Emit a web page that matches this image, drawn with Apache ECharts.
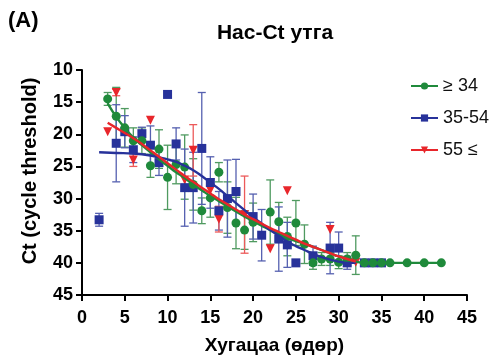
<!DOCTYPE html>
<html>
<head>
<meta charset="utf-8">
<script src="https://cdn.jsdelivr.net/npm/echarts@6/dist/echarts.min.js"></script>
<style>
    html, body { margin: 0; padding: 0; background: #fff; }
    #ET1 { width: 500px; height: 357px; }
</style>
</head>
<body>
<div id="ET1"></div>
<script>
// ≥ 34
var youngDays = [3, 4, 5, 6, 7, 8, 9, 10, 11, 12, 13, 14, 15, 16, 17, 18, 19, 20, 22, 23, 24, 25, 26, 27, 28, 29, 30, 31, 32, 33, 34, 35, 36, 38, 40, 42];
var youngCt   = [14.5, 17.2, 19, 21, 21, 24.9, 22.3, 26.7, 24.7, 25.1, 27.8, 31.9, 29.9, 25.9, 31.4, 33.8, 34.9, 33.7, 32.1, 33.6, 35.9, 33.8, 37.1, 40, 39.4, 39.4, 39.9, 39.4, 38.8, 40, 40, 40, 40, 40, 40, 40];
var youngSd   = [1, 4.5, 3, 2, 2, 1.8, 3, 5, 3, 5, 4, 2, 3, 1.5, 4, 4, 3, 3, 5, 3, 3, 3.5, 3, 1, 1, 1, 1, 1, 3, 0, 0, 0, 0, 0, 0, 0];

// 35-54
var midDays = [2, 4, 5, 6, 7, 8, 9, 10, 11, 12, 13, 14, 15, 16, 17, 18, 20, 21, 23, 24, 25, 27, 29, 30, 31, 33, 34, 35];
var midCt   = [33.3, 21.4, 19.6, 22.4, 19.9, 21.7, 24.4, 13.8, 21.5, 28.3, 28.3, 22.2, 27.5, 31.9, 30, 28.9, 32.8, 35.7, 36.3, 37.2, 40, 38.9, 37.7, 37.7, 40, 40, 40, 40];
var midSd   = [1, 6, 2.5, 2, 1, 3, 2, 0, 2.5, 6, 5.5, 8.7, 4, 3, 6, 5, 3.5, 4, 5, 3.5, 0, 1.5, 4, 2.5, 1, 0, 0, 0];

// 55 ≤
var oldDays = [3, 4, 6, 8, 12, 13, 15, 16, 19, 22, 24, 29, 32];
var oldCt   = [19.6, 13.5, 24, 17.8, 27.1, 22.5, 28.7, 33.2, 32.5, 37.8, 28.8, 34.8, 39.9];
var oldSd   = [0, 0.5, 1, 0, 0, 4, 0, 2, 6, 0, 0, 0, 0];

// fitted curves
var youngFitDays = [3, 4, 5, 6, 7, 8, 9, 10, 11, 12, 13, 14, 15, 16, 17, 18, 19, 20, 21, 22, 23, 24, 25, 26, 27, 28, 29, 30, 31, 32, 33, 34, 42];
var youngFitCt   = [15.2, 17.3, 19, 20.5, 21.7, 22.8, 23.9, 24.9, 25.9, 26.8, 27.8, 28.7, 29.6, 30.4, 31.2, 32, 32.8, 33.5, 34.2, 34.9, 35.5, 36.1, 36.6, 37, 37.5, 38, 38.5, 39, 39.4, 39.8, 40, 40, 40];
var midFitDays = [2, 4, 6, 8, 9, 10, 11, 12, 13, 14, 15, 16, 17, 18, 19, 20, 21, 22, 23, 24, 25, 26, 27, 28, 29, 30, 31, 32];
var midFitCt   = [22.8, 22.9, 23, 23.3, 23.6, 23.9, 24.3, 24.9, 25.6, 26.5, 27.5, 28.5, 29.6, 30.7, 31.8, 32.9, 33.9, 34.9, 35.8, 36.7, 37.4, 38, 38.6, 39.1, 39.5, 39.8, 40, 40];
var oldFitDays = [3, 4, 5, 6, 7, 8, 9, 10, 11, 12, 13, 14, 15, 16, 17, 18, 19, 20, 21, 22, 23, 24, 25, 26, 27, 28, 29, 30, 31, 32];
var oldFitCt   = [18.2, 19, 19.8, 20.6, 21.5, 22.5, 23.5, 24.5, 25.5, 26.5, 27.4, 28.3, 29.2, 30.1, 30.9, 31.7, 32.5, 33.2, 33.9, 34.6, 35.2, 35.8, 36.4, 37, 37.5, 38, 38.5, 39, 39.4, 39.8];

var groupNames = ['≥ 34', '35-54', '55 ≤'];
var colors = ['#1f8a3b', '#27329a', '#e8262b'];
var barColors = ['#4f9a60', '#5560b0', '#ec5a5a'];

function zip2(a, b) {
    return a.map(function (v, i) { return [v, b[i]]; });
}
function zip3(a, b, c) {
    return a.map(function (v, i) { return [v, b[i], c[i]]; });
}

function errorBars(name, data, color) {
    return {
        name: name,
        type: 'custom',
        data: data,
        z: 1,
        renderItem: function (params, api) {
            var x = api.value(0), y = api.value(1), e = api.value(2);
            if (!e) return null;
            var top = api.coord([x, y - e]);
            var bot = api.coord([x, y + e]);
            var w = 4;
            var st = {stroke: color, lineWidth: 1.3, fill: null};
            return {
                type: 'group',
                children: [
                    {type: 'line', shape: {x1: top[0], y1: top[1], x2: bot[0], y2: bot[1]}, style: st},
                    {type: 'line', shape: {x1: top[0] - w, y1: top[1], x2: top[0] + w, y2: top[1]}, style: st},
                    {type: 'line', shape: {x1: bot[0] - w, y1: bot[1], x2: bot[0] + w, y2: bot[1]}, style: st}
                ]
            };
        }
    };
}

function fitLine(name, data, color, symbol, rotate) {
    return {
        name: name,
        type: 'line',
        data: data,
        smooth: true,
        showSymbol: false,
        symbol: symbol,
        symbolRotate: rotate,
        symbolSize: 7,
        z: 4,
        lineStyle: {color: color, width: 2.4},
        itemStyle: {color: color}
    };
}

function points(name, data, color, symbol, rotate) {
    return {
        name: name,
        type: 'scatter',
        data: data,
        symbol: symbol,
        symbolRotate: rotate,
        symbolSize: 9,
        z: 3,
        itemStyle: {color: color, opacity: 1}
    };
}

~function () {
    var myChart = echarts.init(document.getElementById('ET1'));
    var font = 'Liberation Sans, Arial, sans-serif';
    var option = {
        animation: false,
        textStyle: {fontFamily: font},
        title: [
            {
                text: '(A)',
                left: 3,
                top: 5,
                textStyle: {fontSize: 22, fontWeight: 'bold', color: '#000', fontFamily: font}
            },
            {
                text: 'Нас-Ct утга',
                left: 270,
                top: 18,
                textAlign: 'center',
                textStyle: {fontSize: 21, fontWeight: 'bold', color: '#000', fontFamily: font}
            }
        ],
        graphic: [
            {
                type: 'text',
                x: 30,
                y: 171,
                rotation: Math.PI / 2,
                style: {
                    text: 'Ct (cycle threshold)',
                    align: 'center',
                    verticalAlign: 'middle',
                    font: 'bold 20px ' + font,
                    fill: '#000'
                }
            }
        ],
        legend: {
            data: groupNames,
            orient: 'vertical',
            left: 405,
            top: 72,
            itemWidth: 27,
            itemHeight: 9,
            itemGap: 14,
            textStyle: {fontSize: 18, color: '#111', fontFamily: font}
        },
        grid: {left: 82, right: 33, top: 70, bottom: 62, containLabel: false, outerBoundsMode: 'none'},
        xAxis: {
            type: 'value',
            min: 0,
            max: 45,
            interval: 5,
            name: 'Хугацаа (өдөр)',
            nameLocation: 'middle',
            nameGap: 41,
            nameTextStyle: {fontSize: 19, fontWeight: 'bold', color: '#000', fontFamily: font},
            axisLine: {onZero: false, lineStyle: {color: '#000', width: 2}},
            axisTick: {length: 6, lineStyle: {color: '#000', width: 2}},
            axisLabel: {fontSize: 18, fontWeight: 'bold', color: '#000', margin: 14},
            splitLine: {show: false}
        },
        yAxis: {
            type: 'value',
            inverse: true,
            min: 10,
            max: 45,
            interval: 5,
            axisLine: {show: true, onZero: false, lineStyle: {color: '#000', width: 2}},
            axisTick: {show: true, length: 6, lineStyle: {color: '#000', width: 2}},
            axisLabel: {fontSize: 18, fontWeight: 'bold', color: '#000', margin: 9},
            splitLine: {show: false}
        },
        series: [
            fitLine(groupNames[0], zip2(youngFitDays, youngFitCt), colors[0], 'circle', 0),
            fitLine(groupNames[1], zip2(midFitDays, midFitCt), colors[1], 'rect', 0),
            fitLine(groupNames[2], zip2(oldFitDays, oldFitCt), colors[2], 'triangle', 180),
            errorBars(groupNames[0], zip3(youngDays, youngCt, youngSd), barColors[0]),
            errorBars(groupNames[1], zip3(midDays, midCt, midSd), barColors[1]),
            errorBars(groupNames[2], zip3(oldDays, oldCt, oldSd), barColors[2]),
            points(groupNames[2], zip2(oldDays, oldCt), colors[2], 'triangle', 180),
            points(groupNames[1], zip2(midDays, midCt), colors[1], 'rect', 0),
            points(groupNames[0], zip2(youngDays, youngCt), colors[0], 'circle', 0)
        ]
    };
    myChart.setOption(option);
}();
</script>
</body>
</html>
